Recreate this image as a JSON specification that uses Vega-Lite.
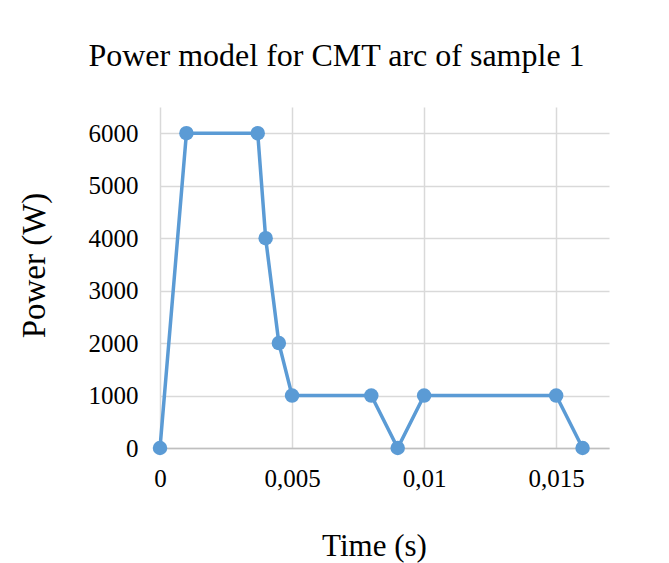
{
  "$schema": "https://vega.github.io/schema/vega-lite/v6.json",
  "width": 449,
  "height": 341,
  "autosize": {"type": "none"},
  "padding": {"left": 160, "top": 107, "right": 60, "bottom": 115},
  "background": "white",
  "title": {
    "text": "Power model for CMT arc of sample 1",
    "font": "Liberation Serif",
    "fontSize": 32,
    "fontWeight": "normal",
    "color": "#000000",
    "anchor": "middle",
    "dx": -48,
    "offset": 34
  },
  "data": {
    "values": [
      {"time": 0, "power": 0},
      {"time": 0.001, "power": 6000},
      {"time": 0.0037, "power": 6000},
      {"time": 0.004, "power": 4000},
      {"time": 0.0045, "power": 2000},
      {"time": 0.005, "power": 1000},
      {"time": 0.008, "power": 1000},
      {"time": 0.009, "power": 0},
      {"time": 0.01, "power": 1000},
      {"time": 0.015, "power": 1000},
      {"time": 0.016, "power": 0}
    ]
  },
  "mark": {
    "type": "line",
    "color": "#5b9bd5",
    "strokeWidth": 3.5,
    "point": {"filled": true, "size": 210, "color": "#5b9bd5", "opacity": 1}
  },
  "encoding": {
    "x": {
      "field": "time",
      "type": "quantitative",
      "scale": {"domain": [0, 0.017], "nice": false, "zero": false},
      "axis": {
        "values": [0, 0.005, 0.01, 0.015],
        "labelExpr": "replace(toString(datum.value), '.', ',')",
        "labelFlush": false,
        "labelOverlap": false,
        "title": "Time (s)",
        "titleFont": "Liberation Serif",
        "titleFontSize": 31,
        "titleFontWeight": "normal",
        "titleColor": "#000000",
        "titlePadding": 40,
        "titleX": 214,
        "labelFont": "Liberation Serif",
        "labelFontSize": 25,
        "labelColor": "#000000",
        "labelPadding": 18,
        "ticks": false,
        "domain": true,
        "domainColor": "#bfbfbf",
        "domainWidth": 1.5,
        "grid": true,
        "gridColor": "#d9d9d9",
        "gridWidth": 1.5
      }
    },
    "y": {
      "field": "power",
      "type": "quantitative",
      "scale": {"domain": [0, 6500], "nice": false},
      "axis": {
        "values": [0, 1000, 2000, 3000, 4000, 5000, 6000],
        "format": "d",
        "labelOverlap": false,
        "labelFlush": false,
        "title": "Power (W)",
        "titleFont": "Liberation Serif",
        "titleFontSize": 33,
        "titleFontWeight": "normal",
        "titleColor": "#000000",
        "titlePadding": 37,
        "titleY": 158,
        "labelFont": "Liberation Serif",
        "labelFontSize": 25,
        "labelColor": "#000000",
        "labelPadding": 22,
        "ticks": false,
        "domain": false,
        "grid": true,
        "gridColor": "#d9d9d9",
        "gridWidth": 1.5
      }
    }
  },
  "config": {
    "view": {"stroke": null}
  }
}
